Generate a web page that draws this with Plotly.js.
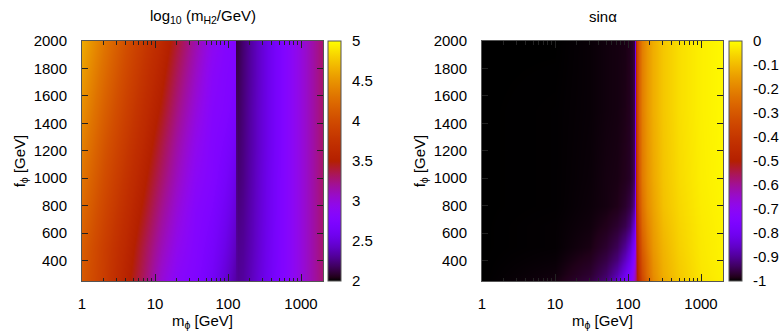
<!DOCTYPE html>
<html><head><meta charset="utf-8">
<script src="https://cdn.plot.ly/plotly-3.0.1.min.js"></script>
<style>html,body{margin:0;padding:0;background:#fff}</style>
</head><body><div id="chart" style="width:781px;height:335px"></div>
<script>
// ---- data: left panel, log10(mH2/GeV) ----
const mH2_mphi = [1,2,4,7,12,20,35,60,90,115,126,129,135,160,220,400,700,1200,2000];
const mH2_fphi = [250,500,750,1000,1250,1500,1750,2000];
const logmH2 = [
  [4.10,3.85,3.55,3.30,3.03,2.85,2.76,2.62,2.47,2.38,2.34,2.32,2.30,2.32,2.42,2.64,2.86,3.08,3.28],
  [4.14,3.87,3.61,3.36,3.12,2.93,2.79,2.67,2.54,2.45,2.41,2.31,2.28,2.30,2.40,2.63,2.86,3.08,3.29],
  [4.22,3.94,3.68,3.45,3.21,3.01,2.82,2.72,2.60,2.52,2.48,2.28,2.25,2.28,2.39,2.62,2.86,3.08,3.29],
  [4.30,4.01,3.75,3.53,3.30,3.09,2.88,2.77,2.66,2.58,2.54,2.26,2.22,2.26,2.38,2.62,2.86,3.08,3.30],
  [4.38,4.08,3.82,3.61,3.38,3.16,2.94,2.79,2.71,2.65,2.62,2.24,2.20,2.25,2.37,2.61,2.86,3.08,3.30],
  [4.46,4.16,3.89,3.68,3.47,3.24,3.01,2.82,2.76,2.71,2.69,2.20,2.18,2.24,2.37,2.61,2.86,3.08,3.30],
  [4.54,4.24,3.96,3.75,3.55,3.32,3.08,2.86,2.78,2.75,2.73,2.16,2.16,2.23,2.36,2.61,2.86,3.08,3.30],
  [4.62,4.32,4.03,3.82,3.63,3.40,3.15,2.92,2.81,2.77,2.75,2.12,2.14,2.22,2.36,2.61,2.86,3.08,3.30]
];
// ---- data: right panel, sin(alpha) ----
const sina_mphi = [1,10,30,50,70,90,105,115,122,126,129,133,140,155,180,220,300,500,1000,2000];
const sina_fphi = [250,300,400,500,650,800,1000,1500,2000];
const sinAlpha = [
  [-1.0,-0.99,-0.96,-0.92,-0.85,-0.78,-0.74,-0.70,-0.64,-0.60,-0.56,-0.51,-0.44,-0.35,-0.27,-0.19,-0.13,-0.08,-0.038,-0.02],
  [-1.0,-0.993,-0.97,-0.935,-0.88,-0.81,-0.76,-0.72,-0.66,-0.62,-0.56,-0.50,-0.42,-0.33,-0.25,-0.18,-0.12,-0.075,-0.035,-0.018],
  [-1.0,-0.996,-0.98,-0.955,-0.92,-0.86,-0.81,-0.77,-0.72,-0.66,-0.56,-0.48,-0.40,-0.31,-0.24,-0.17,-0.115,-0.07,-0.032,-0.016],
  [-1.0,-0.998,-0.988,-0.97,-0.945,-0.90,-0.85,-0.81,-0.77,-0.70,-0.55,-0.46,-0.38,-0.29,-0.22,-0.16,-0.11,-0.065,-0.03,-0.015],
  [-1.0,-0.998,-0.992,-0.983,-0.97,-0.95,-0.92,-0.88,-0.84,-0.74,-0.52,-0.43,-0.35,-0.26,-0.20,-0.15,-0.10,-0.06,-0.028,-0.014],
  [-1.0,-0.999,-0.994,-0.99,-0.985,-0.972,-0.955,-0.935,-0.90,-0.76,-0.50,-0.40,-0.32,-0.24,-0.18,-0.14,-0.09,-0.055,-0.025,-0.012],
  [-1.0,-0.999,-0.995,-0.99,-0.988,-0.982,-0.975,-0.962,-0.94,-0.78,-0.47,-0.38,-0.30,-0.22,-0.17,-0.13,-0.085,-0.05,-0.022,-0.01],
  [-1.0,-0.999,-0.996,-0.992,-0.99,-0.986,-0.98,-0.972,-0.955,-0.78,-0.45,-0.36,-0.28,-0.21,-0.16,-0.12,-0.08,-0.045,-0.02,-0.008],
  [-1.0,-1.0,-0.996,-0.992,-0.99,-0.988,-0.982,-0.976,-0.962,-0.80,-0.45,-0.35,-0.28,-0.21,-0.16,-0.12,-0.08,-0.045,-0.02,-0.008]
];
// ---- tick labels ----
const xTickVals = [1,10,100,1000];
const xTickText = ['1','10','100','1000'];
const cbLeftVals = [2,2.5,3,3.5,4,4.5,5];
const cbLeftText = ['2','2.5','3','3.5','4','4.5','5'];
const cbRightVals = [-1,-0.9,-0.8,-0.7,-0.6,-0.5,-0.4,-0.3,-0.2,-0.1,0];
const cbRightText = ['-1','-0.9','-0.8','-0.7','-0.6','-0.5','-0.4','-0.3','-0.2','-0.1','0'];

// gnuplot default palette (rgbformulae 7,5,15)
const palette = [];
for (let i = 0; i <= 64; i++) {
  const t = i / 64;
  const r = Math.round(255 * Math.sqrt(t));
  const g = Math.round(255 * Math.pow(t, 3));
  const b = Math.round(255 * Math.max(0, Math.sin(2 * Math.PI * t)));
  palette.push([t, `rgb(${r},${g},${b})`]);
}
const minorVals = [];
[1,10,100,1000].forEach(d => { for (let k = 2; k <= 9; k++) if (d*k <= 2000) minorVals.push(d*k); });

const FONT = 'Liberation Sans, Arial, Helvetica, sans-serif';
const W = 781, H = 335;
const yDom = [(H-281)/H, (H-41)/H];

function xaxis(dom, anchor) {
  return {
    type: 'log', domain: dom, anchor: anchor, range: [0, Math.log10(2000)],
    tickmode: 'array', tickvals: xTickVals, ticktext: xTickText,
    ticks: 'inside', ticklen: 7, tickwidth: 1, tickcolor: '#222',
    minor: {tickmode: 'array', tickvals: minorVals, ticks: 'inside', ticklen: 3.5, tickcolor: '#222', showgrid: false},
    showline: true, linecolor: '#555', linewidth: 1, mirror: 'allticks',
    showgrid: false, zeroline: false, ticklabelstandoff: 9,
    tickfont: {family: FONT, size: 15, color: '#000'},
    title: {text: 'm<sub>ϕ</sub> [GeV]', font: {family: FONT, size: 15, color: '#000'}, standoff: 3}
  };
}
function yaxis(anchor) {
  return {
    domain: yDom, anchor: anchor, range: [250, 2000],
    tickmode: 'linear', tick0: 0, dtick: 200,
    ticks: 'inside', ticklen: 6, tickwidth: 1, tickcolor: '#222',
    showline: true, linecolor: '#555', linewidth: 1, mirror: 'allticks',
    showgrid: false, zeroline: false, ticklabelstandoff: 11,
    tickfont: {family: FONT, size: 15, color: '#000'},
    title: {text: 'f<sub>ϕ</sub> [GeV]', font: {family: FONT, size: 15, color: '#000'}, standoff: 4}
  };
}
const CB_T = 13;
function cbar(xLeftPx, vals, text) {
  return {
    x: xLeftPx / W, xanchor: 'left', xref: 'paper', xpad: 0, ypad: 0,
    y: yDom[0], yanchor: 'bottom', len: yDom[1] - yDom[0], lenmode: 'fraction',
    thickness: CB_T, thicknessmode: 'pixels', outlinewidth: 1, outlinecolor: '#555',
    tickmode: 'array', tickvals: vals, ticktext: text,
    ticks: 'outside', ticklen: 8, tickcolor: 'rgba(0,0,0,0)',
    tickfont: {family: FONT, size: 15, color: '#000'}
  };
}
// gnuplot-style dashed tic lines across each colour box
function cbTicShapes(xLeftPx, vals, zmin, zmax) {
  return vals.filter(v => v > zmin && v < zmax).map(v => ({
    type: 'line', xref: 'paper', yref: 'paper',
    x0: xLeftPx / W, x1: (xLeftPx + CB_T) / W,
    y0: yDom[0] + (v - zmin) / (zmax - zmin) * (yDom[1] - yDom[0]),
    y1: yDom[0] + (v - zmin) / (zmax - zmin) * (yDom[1] - yDom[0]),
    line: {color: 'rgba(20,20,20,0.85)', width: 1, dash: '4px,3px'}
  }));
}

const data = [
  {type: 'heatmap', x: mH2_mphi, y: mH2_fphi, z: logmH2, xaxis: 'x', yaxis: 'y',
   zmin: 2, zmax: 5, zsmooth: 'best', colorscale: palette, colorbar: cbar(328, cbLeftVals, cbLeftText)},
  {type: 'heatmap', x: sina_mphi, y: sina_fphi, z: sinAlpha, xaxis: 'x2', yaxis: 'y2',
   zmin: -1, zmax: 0, zsmooth: 'best', colorscale: palette, colorbar: cbar(729, cbRightVals, cbRightText)}
];

const layout = {
  width: W, height: H, margin: {l: 0, r: 0, t: 0, b: 0},
  paper_bgcolor: '#fff', plot_bgcolor: '#fff',
  font: {family: FONT, size: 15, color: '#000'},
  xaxis: xaxis([82/W, 323/W], 'y'),
  yaxis: yaxis('x'),
  xaxis2: xaxis([482/W, 723/W], 'y2'),
  yaxis2: yaxis('x2'),
  shapes: cbTicShapes(328, cbLeftVals, 2, 5).concat(cbTicShapes(729, cbRightVals, -1, 0)),
  annotations: [
    {text: 'log<sub>10</sub> (m<sub>H2</sub>/GeV)', xref: 'paper', yref: 'paper', x: 202.5/W, y: 1 - 16/H,
     xanchor: 'center', yanchor: 'middle', showarrow: false, font: {family: FONT, size: 15, color: '#000'}},
    {text: 'sinα', xref: 'paper', yref: 'paper', x: 602.5/W, y: 1 - 16/H,
     xanchor: 'center', yanchor: 'middle', showarrow: false, font: {family: FONT, size: 15, color: '#000'}}
  ]
};
Plotly.newPlot('chart', data, layout, {staticPlot: true, displayModeBar: false});
</script></body></html>
